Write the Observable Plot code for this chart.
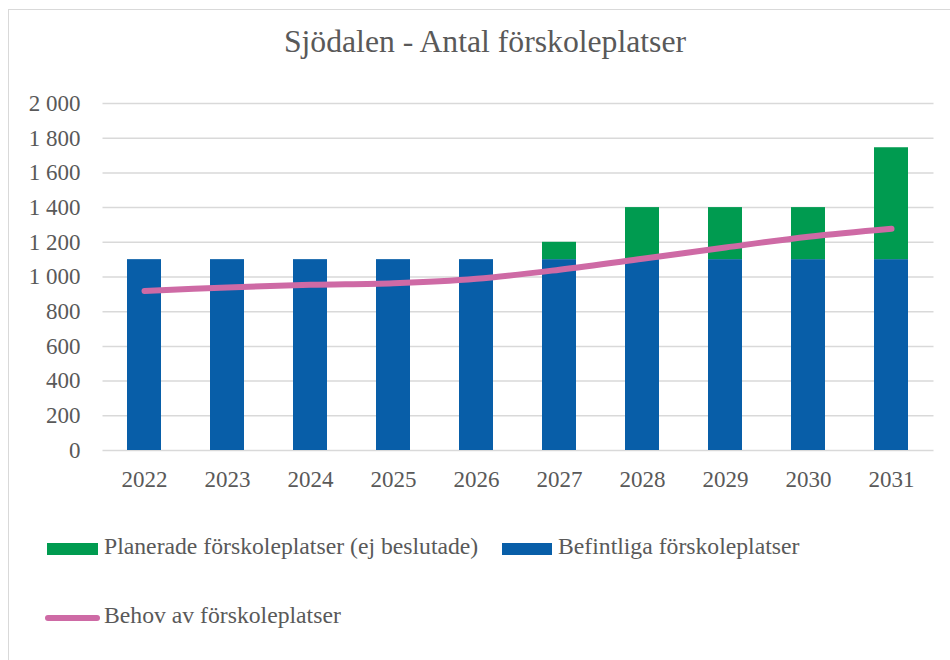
<!DOCTYPE html>
<html>
<head>
<meta charset="utf-8">
<script src="https://cdn.jsdelivr.net/npm/d3@7"></script>
<script src="https://cdn.jsdelivr.net/npm/@observablehq/plot@0.6"></script>
<style>
  html, body { margin: 0; padding: 0; background: #fff; }
  body { width: 950px; height: 660px; position: relative; overflow: hidden; font-family: "Liberation Serif", "Times New Roman", serif; color: #595959; }
  .frame { position: absolute; left: 8px; top: 9px; width: 1000px; height: 700px; border-top: 1.5px solid #d9d9d9; border-left: 1.5px solid #d9d9d9; box-sizing: border-box; }
  .title { position: absolute; left: 20px; width: 930px; top: 25.5px; text-align: center; font-size: 31.7px; line-height: 31.7px; white-space: nowrap; }
  #chart { position: absolute; left: 0; top: 80px; }
  .leg { position: absolute; font-size: 23.7px; line-height: 23.7px; white-space: nowrap; }
  .sw { position: absolute; }
</style>
</head>
<body>
<div class="frame"></div>
<div class="title">Sjödalen - Antal förskoleplatser</div>
<div id="chart"></div>
<div class="sw" style="left:47px;top:543px;width:51px;height:12px;background:#009B50"></div>
<div class="leg" style="left:104px;top:535px">Planerade förskoleplatser (ej beslutade)</div>
<div class="sw" style="left:502px;top:543px;width:50px;height:12px;background:#085EA8"></div>
<div class="leg" style="left:558px;top:535px">Befintliga förskoleplatser</div>
<div class="sw" style="left:45px;top:615px;width:55px;height:6px;border-radius:3px;background:#CE6AA5"></div>
<div class="leg" style="left:104px;top:604px">Behov av förskoleplatser</div>
<script>
const years = ["2022","2023","2024","2025","2026","2027","2028","2029","2030","2031"];
const befintliga = [1100,1100,1100,1100,1100,1100,1100,1100,1100,1100];
const planerade = [0,0,0,0,0,100,300,300,300,645];
const behov = [920,940,955,964,990,1042,1105,1170,1232,1278];
const yTicks = [0,200,400,600,800,1000,1200,1400,1600,1800,2000];
const seriesNames = ["Befintliga förskoleplatser","Planerade förskoleplatser (ej beslutade)"];
const seriesColors = ["#085EA8","#009B50"];

const rows = [];
years.forEach((y,i) => rows.push({year:y, series:seriesNames[0], value:befintliga[i]}));
years.forEach((y,i) => rows.push({year:y, series:seriesNames[1], value:planerade[i]}));
const lineData = years.map((y,i) => ({year:y, value:behov[i]}));

const loc = d3.formatLocale({decimal:",", thousands:"\u00a0", grouping:[3], currency:["","kr"]});
const fmt = loc.format(",d");

const chart = Plot.plot({
  width: 950,
  height: 420,
  marginTop: 23,
  marginBottom: 50,
  marginLeft: 102.5,
  marginRight: 16.5,
  style: {fontFamily: "'Liberation Serif', 'Times New Roman', serif", fontSize: "23px", color: "#595959", background: "transparent"},
  x: {domain: years, paddingInner: 0.59, paddingOuter: 0.295, label: null, tickSize: 0, tickPadding: 20},
  y: {domain: [0,2000], ticks: yTicks, tickFormat: fmt, label: null, tickSize: 0, tickPadding: 22.5},
  color: {domain: seriesNames, range: seriesColors},
  marks: [
    Plot.gridY(yTicks, {stroke: "#d9d9d9", strokeOpacity: 1, strokeWidth: 1.5}),
    Plot.barY(rows, {x: "year", y: "value", fill: "series"}),
    Plot.line(lineData, {x: "year", y: "value", stroke: "#CE6AA5", strokeWidth: 6, curve: "catmull-rom", strokeLinecap: "round", strokeLinejoin: "round"})
  ]
});
document.getElementById("chart").appendChild(chart);
</script>
</body>
</html>
